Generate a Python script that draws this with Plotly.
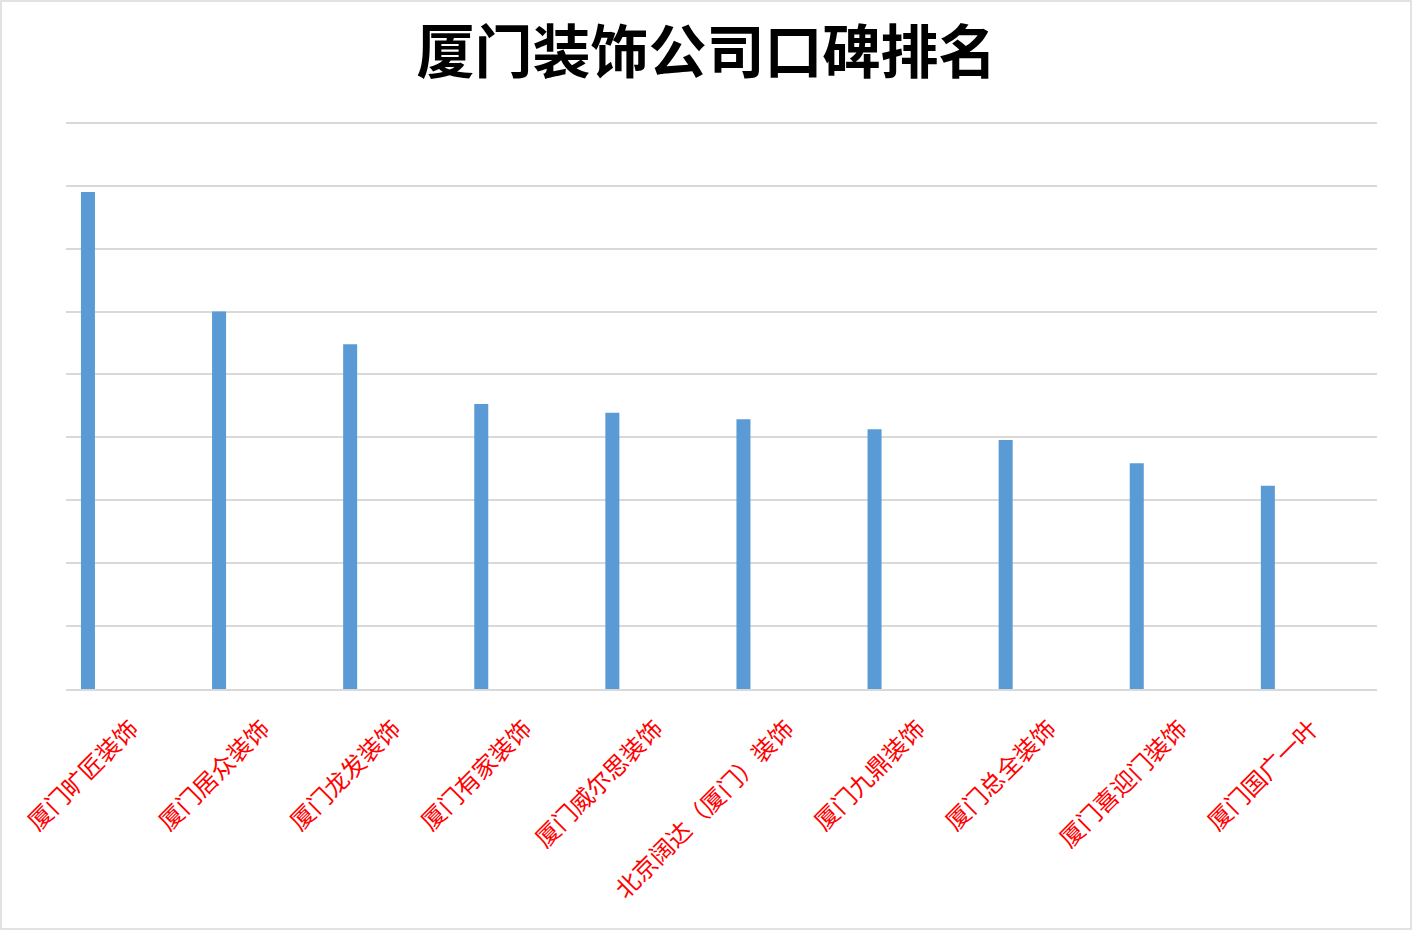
import plotly.graph_objects as go

# company names and scores
companies = ["厦门旷匠装饰", "厦门居众装饰", "厦门龙发装饰", "厦门有家装饰", "厦门威尔思装饰",
             "北京阔达（厦门）装饰", "厦门九鼎装饰", "厦门总全装饰", "厦门喜迎门装饰", "厦门国广一叶"]
scores = [7.90, 6.0, 5.48, 4.53, 4.39, 4.29, 4.13, 3.96, 3.59, 3.23]

W, H = 1413, 931
ML, MR, MT, MB = 66, 36, 121, 242

pw = W - ML - MR
ph = H - MT - MB


def px_x(p):
    return (p - ML) / pw


def px_y(p):
    return 1 - (p - MT) / ph


fig = go.Figure()
fig.add_trace(go.Bar(
    x=companies,
    y=scores,
    marker=dict(color="#5B9BD5", line=dict(width=0)),
    width=0.107,
    offset=-0.386,
    hoverinfo="x+y",
))

# light frame round the whole picture
fig.add_shape(type="rect", xref="paper", yref="paper",
              x0=px_x(1), x1=px_x(1411), y0=px_y(929), y1=px_y(1),
              line=dict(color="#D9D9D9", width=1.5), layer="below")

fig.update_layout(
    width=W, height=H,
    margin=dict(l=ML, r=MR, t=MT, b=MB),
    paper_bgcolor="white",
    plot_bgcolor="white",
    showlegend=False,
    title=dict(text="<b>厦门装饰公司口碑排名</b>", x=0.5, xanchor="center",
               y=1 - 53 / H, yanchor="middle",
               font=dict(family="Noto Sans CJK SC", size=58, color="black")),
    font=dict(family="Noto Sans CJK SC"),
)
fig.update_xaxes(
    type="category",
    range=[-0.5, 9.5],
    tickangle=-45,
    tickfont=dict(family="Noto Sans CJK SC", size=24, color="#FF0000"),
    ticklabelstandoff=14,
    showgrid=False,
    showline=True, linecolor="#D9D9D9", linewidth=2,
    ticks="", ticklen=0,
)
fig.update_yaxes(
    range=[0, 9.03],
    tickvals=list(range(1, 10)),
    showticklabels=False,
    showgrid=True, gridcolor="#D9D9D9", gridwidth=1.5,
    zeroline=False,
    showline=False,
)

# drop the default body margin so the figure sits at the window corner
fig.write_html("out.html", config={"displayModeBar": False},
               post_script="document.body.style.margin='0';")
